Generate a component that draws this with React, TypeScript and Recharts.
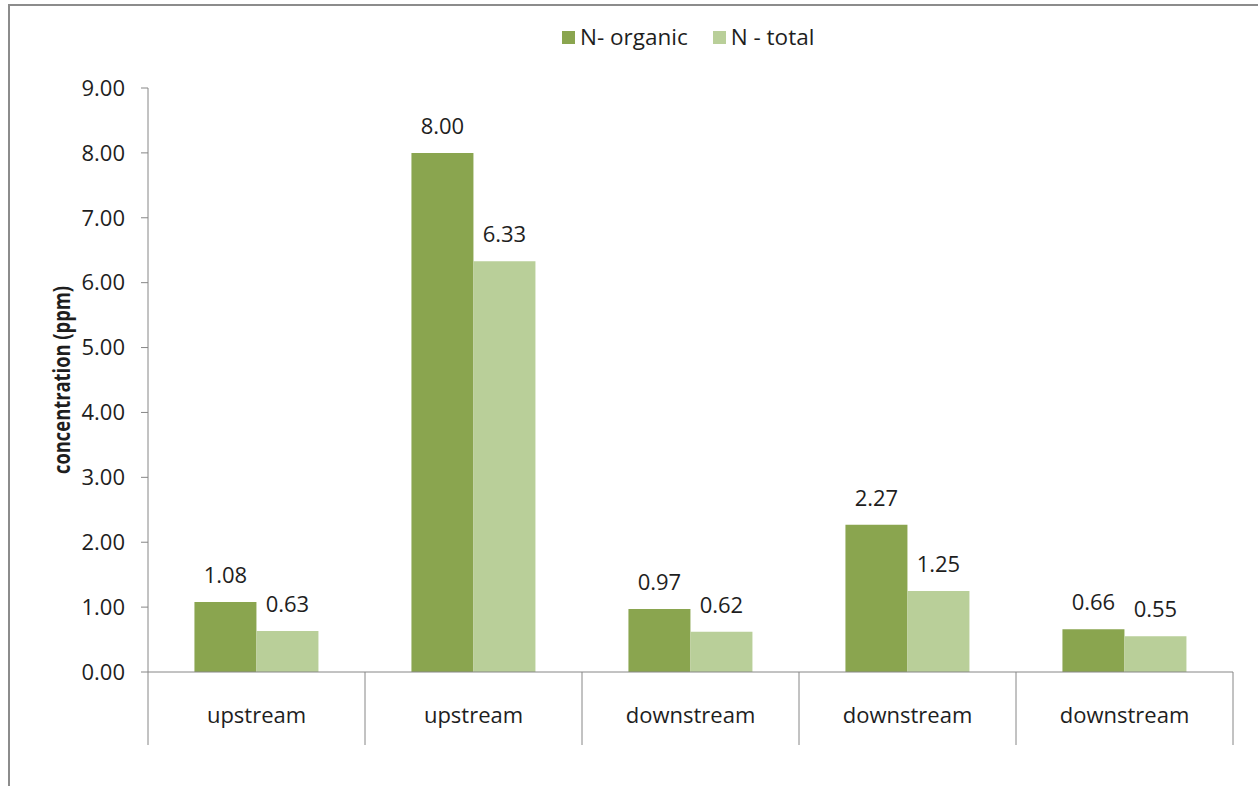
import React from 'react';
import { BarChart, Bar, XAxis, YAxis, Legend, LabelList } from 'recharts';

const sites = ['upstream', 'upstream', 'downstream', 'downstream', 'downstream'];
const nOrganic = [1.08, 8.0, 0.97, 2.27, 0.66];
const nTotal = [0.63, 6.33, 0.62, 1.25, 0.55];
const yTicks = [0, 1, 2, 3, 4, 5, 6, 7, 8, 9];

const data = sites.map((site, i) => ({
  site,
  organic: nOrganic[i],
  total: nTotal[i],
}));

const WIDTH = 1258;
const HEIGHT = 786;
const MARGIN = { top: 58, right: 25, bottom: 41, left: 0 };
const Y_AXIS_WIDTH = 148;
const X_AXIS_HEIGHT = 73;
const AXIS_COLOR = '#868686';
const TEXT_COLOR = '#1e1e1e';
const FONT = '"Open Sans", "Noto Sans", sans-serif';
const DARK = '#8AA54F';
const LIGHT = '#B9CF99';

const bandWidth = (WIDTH - MARGIN.left - MARGIN.right - Y_AXIS_WIDTH) / sites.length;

// category label centred in the band, with separators on the band edges
function SiteTick(props: any) {
  const { x, y, payload, index } = props;
  const left = x - bandWidth / 2;
  const right = x + bandWidth / 2;
  return (
    <g>
      <line x1={left} y1={y} x2={left} y2={y + X_AXIS_HEIGHT} stroke={AXIS_COLOR} />
      {index === sites.length - 1 && (
        <line x1={right} y1={y} x2={right} y2={y + X_AXIS_HEIGHT} stroke={AXIS_COLOR} />
      )}
      <text x={x} y={y + 51} textAnchor="middle" fill={TEXT_COLOR} fontSize={22} fontFamily={FONT}>
        {payload.value}
      </text>
    </g>
  );
}

function LegendContent() {
  const items = [
    { label: 'N- organic', color: DARK },
    { label: 'N - total', color: LIGHT },
  ];
  return (
    <div style={{ display: 'flex', alignItems: 'center', gap: 25, fontFamily: FONT, fontSize: 22.5, lineHeight: '30px', color: TEXT_COLOR }}>
      {items.map((it) => (
        <div key={it.label} style={{ display: 'flex', alignItems: 'center' }}>
          <span style={{ width: 13, height: 13, background: it.color, marginRight: 5, display: 'inline-block' }} />
          <span>{it.label}</span>
        </div>
      ))}
    </div>
  );
}

// bold axis title, squeezed to the same length as a condensed face
function YLabel(props: any) {
  const { viewBox } = props;
  const cy = viewBox.y + viewBox.height / 2;
  return (
    <text
      x={70}
      y={cy}
      transform={`rotate(-90, 70, ${cy})`}
      textAnchor="middle"
      textLength={188}
      lengthAdjust="spacingAndGlyphs"
      fill={TEXT_COLOR}
      fontSize={23}
      fontWeight="bold"
      fontFamily={FONT}
    >
      concentration (ppm)
    </text>
  );
}

const fmt = (v: number) => v.toFixed(2);

export default function App() {
  return (
    <div style={{ position: 'absolute', left: 0, top: 0, width: WIDTH, height: HEIGHT, background: '#fff' }}>
      <div
        style={{
          position: 'absolute',
          left: 8,
          top: 4,
          right: 0,
          bottom: 0,
          borderTop: '2px solid #8c8c8c',
          borderLeft: '2px solid #8c8c8c',
        }}
      />
      <BarChart
        width={WIDTH}
        height={HEIGHT}
        data={data}
        margin={MARGIN}
        barGap={0}
        barCategoryGap="21.4%"
        style={{ position: 'absolute', left: 0, top: 0 }}
      >
        <XAxis
          dataKey="site"
          height={X_AXIS_HEIGHT}
          axisLine={{ stroke: AXIS_COLOR }}
          tickLine={false}
          tickSize={0}
          tickMargin={0}
          tick={<SiteTick />}
          interval={0}
        />
        <YAxis
          width={Y_AXIS_WIDTH}
          domain={[0, 9]}
          ticks={yTicks}
          tickFormatter={fmt}
          axisLine={{ stroke: AXIS_COLOR }}
          tickLine={{ stroke: AXIS_COLOR }}
          tickSize={7}
          tickMargin={16}
          tick={{ fill: TEXT_COLOR, fontSize: 22, fontFamily: FONT }}
          label={<YLabel />}
        />
        <Legend
          verticalAlign="top"
          content={<LegendContent />}
          wrapperStyle={{ top: 22, left: 562, width: 'auto' }}
        />
        <Bar dataKey="organic" name="N- organic" fill={DARK} isAnimationActive={false}>
          <LabelList dataKey="organic" position="top" offset={19} formatter={fmt} fill={TEXT_COLOR} fontSize={22} fontFamily={FONT} />
        </Bar>
        <Bar dataKey="total" name="N - total" fill={LIGHT} isAnimationActive={false}>
          <LabelList dataKey="total" position="top" offset={19} formatter={fmt} fill={TEXT_COLOR} fontSize={22} fontFamily={FONT} />
        </Bar>
      </BarChart>
    </div>
  );
}
